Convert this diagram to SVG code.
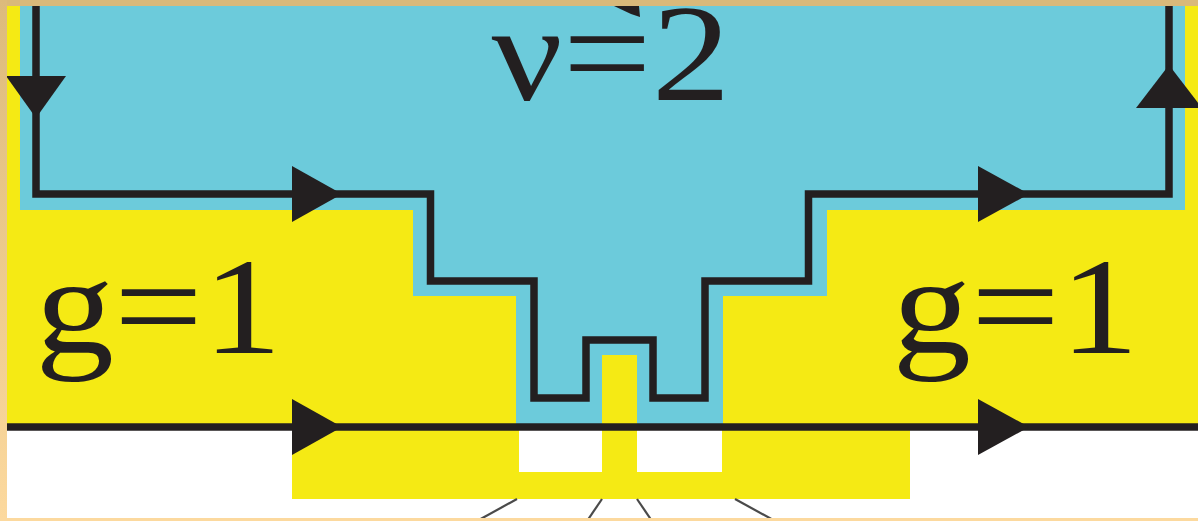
<svg xmlns="http://www.w3.org/2000/svg" width="1198" height="521" viewBox="0 0 1198 521">
<defs>
<linearGradient id="lb" x1="0" y1="0" x2="0" y2="1">
<stop offset="0" stop-color="#dcba7c"/>
<stop offset="1" stop-color="#fcd99e"/>
</linearGradient>
<style>
.ln{fill:none;stroke:#231f20;stroke-width:7.5;stroke-linejoin:miter;stroke-linecap:butt}
.ah{fill:#231f20}
.ray{stroke:#4a4a4a;stroke-width:2.2}
.lbl{font-family:"Liberation Serif","Times New Roman",serif;font-size:137px;fill:#231f20;text-anchor:middle}
</style>
</defs>
<rect x="0" y="0" width="1198" height="521" fill="#ffffff"/>
<g id="regions">
<rect x="7" y="6" width="1191" height="421" fill="#f5ea14"/>
<rect x="292" y="427" width="618" height="72" fill="#f5ea14"/>
<path d="M20,6 H1185 V210 H827 V296 H723 V427 H516 V296 H413 V210 H20 Z" fill="#6ccbdb"/>
<rect x="602" y="355" width="35" height="144" fill="#f5ea14"/>
<rect x="519" y="430" width="83" height="42" fill="#ffffff"/>
<rect x="637" y="430" width="85" height="42" fill="#ffffff"/>
</g>
<g id="connectors">
<path class="ln" d="M36,0 V194 H430.5 V281 H534 V398 H586 V340 H653 V398 H705 V281 H808.5 V194 H1169 V0"/>
<line class="ln" x1="7" y1="427" x2="1198" y2="427"/>
<polygon class="ah" points="6,76 66,76 36,118"/>
<polygon class="ah" points="1136,108 1202,108 1169,65"/>
<polygon class="ah" points="292,166 292,222 342,194"/>
<polygon class="ah" points="978,166 978,222 1029,194"/>
<polygon class="ah" points="292,399 292,455 342,427"/>
<polygon class="ah" points="978,399 978,455 1029,427"/>
<line class="ray" x1="517" y1="499" x2="477" y2="521"/>
<line class="ray" x1="602" y1="499" x2="587" y2="521"/>
<line class="ray" x1="637" y1="499" x2="652" y2="521"/>
<line class="ray" x1="735" y1="499" x2="775" y2="521"/>
<polygon class="ah" points="614,6 639,6 640,17 631,14"/>
</g>
<g id="label-nu">
<text class="lbl" transform="translate(611,100) scale(1.15,1)">ν=2</text>
</g>
<g id="label-g-left">
<text class="lbl" transform="translate(158.5,353) scale(1.15,1)">g=1</text>
</g>
<g id="label-g-right">
<text class="lbl" transform="translate(1015.5,353) scale(1.15,1)">g=1</text>
</g>
<g id="frame">
<rect x="0" y="0" width="1198" height="6" fill="#d9b97a"/>
<rect x="0" y="0" width="7" height="521" fill="url(#lb)"/>
<rect x="0" y="518" width="1198" height="3" fill="#fcd99e"/>
</g>
</svg>
